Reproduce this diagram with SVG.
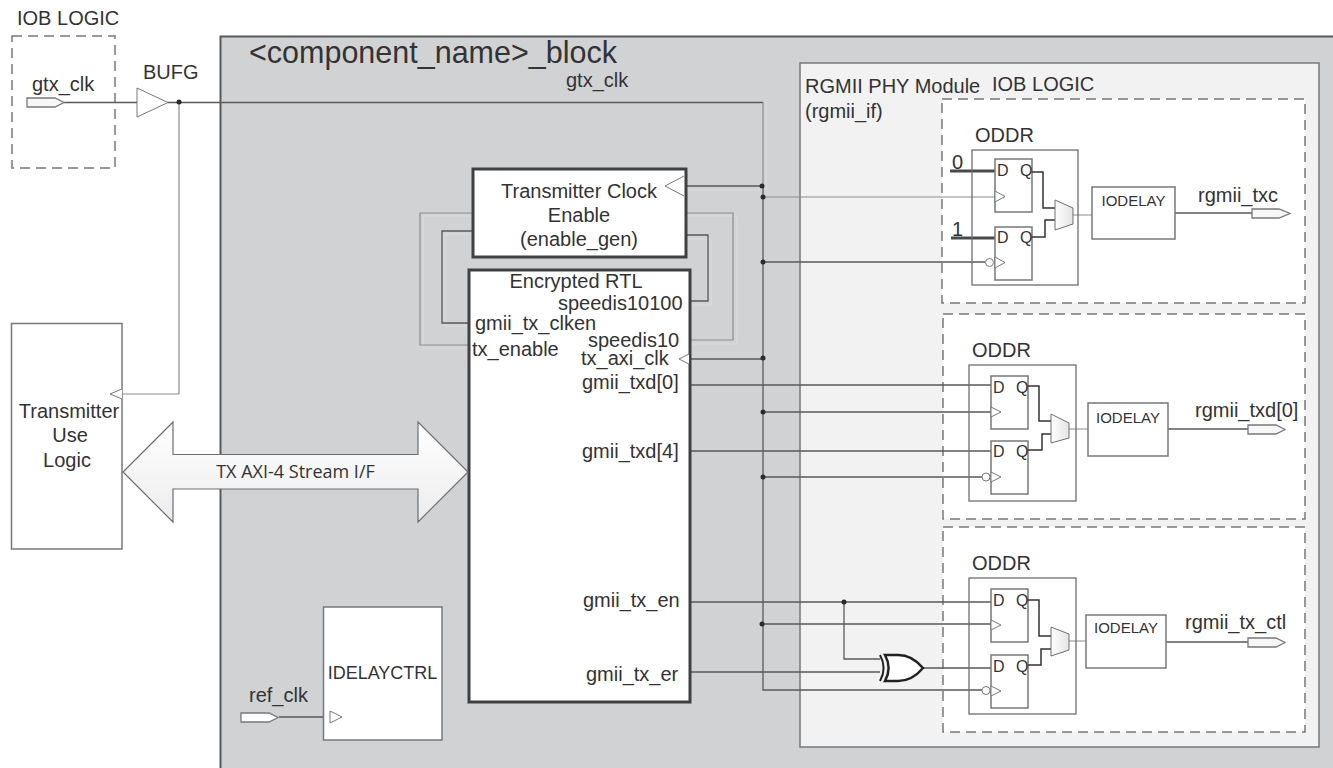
<svg xmlns="http://www.w3.org/2000/svg" width="1333" height="768" viewBox="0 0 1333 768">
<defs>
<linearGradient id="g" x1="0" y1="0" x2="0" y2="1"><stop offset="0" stop-color="#ffffff"/><stop offset="1" stop-color="#ececed"/></linearGradient>
<linearGradient id="m" x1="0" y1="0" x2="1" y2="0"><stop offset="0" stop-color="#ffffff"/><stop offset="1" stop-color="#e4e4e5"/></linearGradient>
</defs>
<style>
text{font-family:"Liberation Sans",Arial,sans-serif;fill:#333335;font-size:20px}
.box{fill:#fff;stroke:#77787b;stroke-width:1.5}
.oddr{fill:none;stroke:#6d6e71;stroke-width:1.3}
.thick{fill:#fff;stroke:#404042;stroke-width:3}
.dash{fill:#fff;stroke:#77787b;stroke-width:1.5;stroke-dasharray:10 6}
.w{fill:#fff;stroke:#77787b;stroke-width:1}
.port{fill:#f7f7f7;stroke:#77787b;stroke-width:1.3}
.l{fill:none;stroke:#58595b;stroke-width:1.3}
.lg{fill:none;stroke:#8a8c8e;stroke-width:1.2}
.lk{fill:none;stroke:#333335;stroke-width:1.5}
.th{fill:none;stroke:#4a4a4c;stroke-width:3}
.ghost{fill:none;stroke:#dcdde0;stroke-width:1}
.dot{fill:#2b2b2d}
.big{font-size:30.500px}
.ff{font-size:16px}
.io{font-size:15px;text-anchor:middle}
.m{text-anchor:middle}
</style>

<g id="block">
<rect x="220.500" y="36.500" width="1130" height="760" fill="#d1d2d4" stroke="#58595b" stroke-width="2"/>
<text class="big" x="249" y="63">&lt;component_name&gt;_block</text>
<text x="566" y="87">gtx_clk</text>
</g>
<g id="rgmii-phy">
<rect x="800" y="63" width="519" height="684" fill="#f2f2f2" stroke="#77787b" stroke-width="1.5"/>
<text x="805" y="93">RGMII PHY Module</text>
<text x="805" y="118">(rgmii_if)</text>
<text x="992" y="91">IOB LOGIC</text>
</g>
<g id="iob-gtx">
<text x="17" y="25">IOB LOGIC</text>
<rect class="dash" x="12" y="36" width="103" height="132"/>
<text x="32" y="91">gtx_clk</text>
</g>
<g id="iob-txc"><rect class="dash" x="942" y="99" width="363" height="204"/></g>
<g id="iob-txd"><rect class="dash" x="943" y="314" width="362" height="205"/></g>
<g id="iob-ctl"><rect class="dash" x="943" y="527" width="362" height="205"/></g>

<g id="tx-use-logic">
<rect class="box" x="11.500" y="323.500" width="110.500" height="225.500"/>
<text class="m" x="69" y="418">Transmitter</text>
<text class="m" x="70" y="442">Use</text>
<text class="m" x="67" y="467">Logic</text>
</g>

<g id="connectors">
<path class="ghost" d="M473 216H423V348H469M473 234H445V326H469M686 216H737V344H690M686 239H711V305H690M686 190H760M766 102V190"/>
<path class="l" d="M64 102.500H137M168 102.500H763"/>
<path class="lg" d="M179 102V394H122M763 102V186"/>
<path class="l" d="M686 186H763M763 186V690H982"/>
<path class="lg" d="M763 197H995"/>
<path class="l" d="M763 262H985"/>
<path class="lg" d="M473 213H420V345H469M686 213H733V340H690"/>
<path class="l" d="M473 231H442V323H469M686 235H708V301H690"/>
<path class="l" d="M690 359H763M690 385H991M690 451H991M763 412H991M763 477H982"/>
<path class="l" d="M690 602H991M763 624H991M844 602V659H880M690 672H880M923 668H991"/>
<path class="th" d="M950 171H995M951 238H995"/>
<path class="lg" d="M1073 215H1092M1069 429H1088M1069 641H1086"/>
<path class="l" d="M1175 213H1252M1168 429H1248M1166 642H1248"/>
<path class="l" d="M279 717H331"/>
<circle class="dot" cx="179" cy="102" r="2.500"/>
<circle class="dot" cx="762" cy="186" r="2.500"/>
<circle class="dot" cx="763" cy="197" r="2.500"/>
<circle class="dot" cx="763" cy="262" r="2.500"/>
<circle class="dot" cx="763" cy="358" r="2.500"/>
<circle class="dot" cx="763" cy="412" r="2.500"/>
<circle class="dot" cx="763" cy="477" r="2.500"/>
<circle class="dot" cx="844" cy="602" r="2.500"/>
<circle class="dot" cx="762" cy="624" r="2.500"/>
</g>

<g id="port-gtx-clk"><path class="port" d="M27 98H55L64 102.500L55 107H27Z"/></g>
<g id="bufg">
<path class="w" d="M137 88L168 102.500L137 117Z"/>
<text x="143" y="79">BUFG</text>
</g>
<path class="w" id="clk-in-use" d="M122 389L110 394L122 399"/>

<g id="tx-clock-enable">
<rect class="thick" x="473" y="169" width="213" height="88"/>
<path class="w" d="M684 176L665 186L684 196"/>
<text class="m" x="579" y="198">Transmitter Clock</text>
<text class="m" x="579" y="222">Enable</text>
<text class="m" x="579" y="246">(enable_gen)</text>
</g>

<g id="encrypted-rtl">
<rect class="thick" x="469" y="270" width="221" height="432"/>
<path class="w" d="M689 354L679 359L689 364"/>
<text class="m" x="576" y="288">Encrypted RTL</text>
<text x="558" y="310">speedis10100</text>
<text x="475" y="330">gmii_tx_clken</text>
<text x="588" y="347">speedis10</text>
<text x="472" y="356">tx_enable</text>
<text x="581" y="365">tx_axi_clk</text>
<text x="582" y="389">gmii_txd[0]</text>
<text x="582" y="458">gmii_txd[4]</text>
<text x="583" y="607">gmii_tx_en</text>
<text x="586" y="681">gmii_tx_er</text>
</g>

<g id="axi-arrow">
<path d="M123 472L173 422V454.500H418V422L468 472L418 522V489H173V522Z" fill="url(#g)" stroke="#6d6e71" stroke-width="1.200"/>
<text class="m" x="295.500" y="478" style="font-family:'Open Sans','Noto Sans',sans-serif;font-size:18px">TX AXI-4 Stream I/F</text>
</g>

<g id="idelayctrl">
<rect class="box" x="323.500" y="607" width="118.500" height="133"/>
<text class="m" x="382.500" y="679" style="font-size:18px">IDELAYCTRL</text>
<path class="w" d="M330 711L342 717L330 723Z"/>
</g>
<g id="ref-clk">
<text x="249" y="702">ref_clk</text>
<path class="port" d="M241 713H269L278 717.500L269 722H241Z" style="fill:#fff"/>
</g>

<g id="oddr-txc">
<text x="975" y="142">ODDR</text>
<rect class="oddr" x="972" y="150" width="106" height="135"/>
<rect class="box" x="995" y="159" width="37" height="53"/>
<rect class="box" x="995" y="227" width="37" height="53"/>
<text class="ff" x="997" y="176">D</text><text class="ff" x="1020" y="176">Q</text>
<text class="ff" x="997" y="243">D</text><text class="ff" x="1020" y="243">Q</text>
<text x="952" y="169">0</text><text x="952" y="236">1</text>
<path class="w" d="M995 191L1005 196.500L995 202Z"/>
<path class="w" d="M995 257L1005 262.500L995 268Z"/>
<circle class="w" cx="989.500" cy="262.500" r="4"/>
<path class="lk" d="M1032 172H1043V208H1055M1032 237H1045V220H1055"/>
<path d="M1055 200L1073 208V224L1055 230Z" fill="url(#m)" stroke="#6d6e71"/>
</g>
<g id="iodelay-txc">
<rect class="box" x="1092" y="187" width="83" height="52"/>
<text class="io" x="1133.500" y="206">IODELAY</text>
</g>
<g id="out-txc">
<text x="1198" y="202">rgmii_txc</text>
<path class="port" d="M1252 209H1279L1290 213.500L1279 218H1252Z"/>
</g>

<g id="oddr-txd">
<text x="972" y="357">ODDR</text>
<rect class="oddr" x="969" y="365" width="107" height="136"/>
<rect class="box" x="991" y="376" width="37" height="53"/>
<rect class="box" x="991" y="441" width="37" height="53"/>
<text class="ff" x="993" y="393">D</text><text class="ff" x="1016" y="393">Q</text>
<text class="ff" x="993" y="457">D</text><text class="ff" x="1016" y="457">Q</text>
<path class="w" d="M991 407L1001 412L991 417Z"/>
<path class="w" d="M991 472L1001 477L991 482Z"/>
<circle class="w" cx="986" cy="477" r="4"/>
<path class="lk" d="M1028 386H1039V421H1051M1028 450H1042V434H1051"/>
<path d="M1051 414L1069 423V438L1051 443Z" fill="url(#m)" stroke="#6d6e71"/>
</g>
<g id="iodelay-txd">
<rect class="box" x="1088" y="403" width="80" height="53"/>
<text class="io" x="1128" y="423">IODELAY</text>
</g>
<g id="out-txd">
<text x="1195" y="417">rgmii_txd[0]</text>
<path class="port" d="M1248 425H1276L1285 429.500L1276 434H1248Z"/>
</g>

<g id="oddr-ctl">
<text x="972" y="570">ODDR</text>
<rect class="oddr" x="969" y="578" width="107" height="136"/>
<rect class="box" x="991" y="589" width="37" height="53"/>
<rect class="box" x="991" y="655" width="37" height="53"/>
<text class="ff" x="993" y="606">D</text><text class="ff" x="1016" y="606">Q</text>
<text class="ff" x="993" y="672">D</text><text class="ff" x="1016" y="672">Q</text>
<path class="w" d="M991 620L1001 625L991 630Z"/>
<path class="w" d="M991 686L1001 691L991 696Z"/>
<circle class="w" cx="986" cy="690.500" r="4"/>
<path class="lk" d="M1028 600H1039V636H1051M1028 665H1041V649H1051"/>
<path d="M1051 627L1069 634V650L1051 656Z" fill="url(#m)" stroke="#6d6e71"/>
</g>
<g id="xor-gate">
<path d="M885 655H898C910 655 918 662 923 668C918 674 910 681 898 681H885C890 672 890 664 885 655Z" fill="#fff" stroke="#222" stroke-width="2.500"/>
<path d="M880 655C885 664 885 672 880 681" fill="none" stroke="#222" stroke-width="2"/>
</g>
<g id="iodelay-ctl">
<rect class="box" x="1086" y="615" width="80" height="53"/>
<text class="io" x="1126" y="633">IODELAY</text>
</g>
<g id="out-ctl">
<text x="1185" y="629">rgmii_tx_ctl</text>
<path class="port" d="M1248 638H1276L1285 642.500L1276 647H1248Z"/>
</g>
</svg>
